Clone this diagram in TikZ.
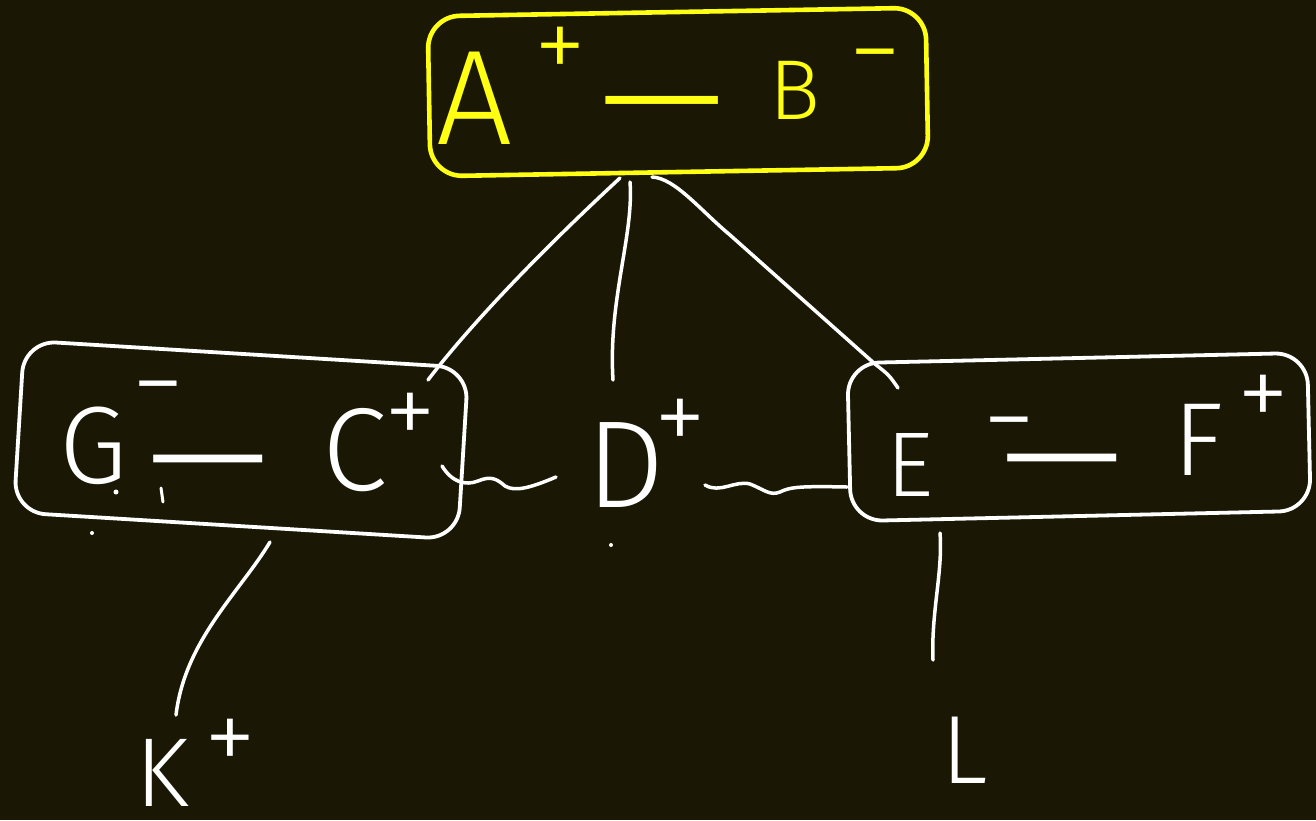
\documentclass[tikz,border=0pt]{standalone}
\usepackage{fontspec}
\setmainfont{Fira Sans}[UprightFont=* Light]
\definecolor{bg}{HTML}{1A1805}
\definecolor{hy}{HTML}{FFFF14}
\begin{document}
\begin{tikzpicture}[x=1pt,y=-1pt,line cap=round,line join=round,
  stroke/.style={draw=white,line width=3.5pt},
  box/.style={draw=white,line width=3.8pt,rounded corners=32pt,inner sep=0pt},
  letter/.style={text=white,inner sep=0pt,font=\fontsize{118}{118}\selectfont},
  sgn/.style={text=white,inner sep=0pt,font=\fontsize{105}{105}\selectfont},
  longdash/.style={text=white,inner sep=0pt,font=\fontsize{160}{160}\selectfont},
  dotmark/.style={fill=white,circle,inner sep=0pt,minimum size=4pt}]
\fill[bg] (0,0) rectangle (1316,820);
\useasboundingbox (0,0) rectangle (1316,820);
% boxes
\node[box,draw=hy,line width=4.6pt,minimum width=498pt,minimum height=160pt,rotate=1] (top) at (678,92) {};
\node[box,minimum width=445pt,minimum height=172pt,rotate=-3.5] (lbox) at (241,440) {};
\node[box,minimum width=460pt,minimum height=158pt,rotate=1.3] (rbox) at (1079,437) {};
% top texts
\node[letter,text=hy,font=\fontsize{135}{135}\selectfont] (a) at (475,98) {A};
\node[sgn,text=hy] (ap) at (560,54) {+};
\node[longdash,text=hy] (ab) at (662,123) {—};
\node[letter,text=hy,font=\fontsize{85}{85}\selectfont] (b) at (795,90) {B};
\node[sgn,text=hy] (bm) at (875,68) {−};
% left box texts
\node[letter,font=\fontsize{110}{110}\selectfont] (g) at (93,446) {G};
\node[sgn] (gm) at (158,400) {−};
\node[longdash,font=\fontsize{155}{155}\selectfont] (gc) at (208,481) {—};
\node[letter] (c) at (355,450) {C};
\node[sgn] (cp) at (410,420) {+};
% middle
\node[letter,font=\fontsize{124}{124}\selectfont] (d) at (626,465) {D};
\node[sgn] (dp) at (680,426) {+};
% right box texts
\node[letter,font=\fontsize{92}{92}\selectfont] (e) at (910,465) {E};
\node[sgn] (em) at (1009,436) {−};
\node[longdash,font=\fontsize{155}{155}\selectfont] (ef) at (1062,480) {—};
\node[letter,font=\fontsize{104}{104}\selectfont] (f) at (1198,440) {F};
\node[sgn] (fp) at (1263,402) {+};
% bottom
\node[letter,font=\fontsize{98}{98}\selectfont] (k) at (162,773) {K};
\node[sgn] (kp) at (230,746) {+};
\node[letter,font=\fontsize{97}{97}\selectfont] (l) at (965,750) {L};
% stray dots
\node[dotmark] (s1) at (92,533) {};
\node[dotmark] (s2) at (611,545) {};
\node[dotmark,minimum size=5pt] (s3) at (116,492) {};
% connector end points
\coordinate (t1) at (620,178);
\coordinate (t2) at (630,182);
\coordinate (t3) at (652,177);
\coordinate (l1) at (428,380);
\coordinate (d1) at (613,380);
\coordinate (r1) at (898,388);
\coordinate (lb) at (270,542);
\coordinate (k1) at (176,715);
\coordinate (rb) at (940,533);
\coordinate (l2) at (933,660);
\coordinate (w1) at (442,466);
\coordinate (w2) at (556,477);
\coordinate (w3) at (705,485);
\coordinate (w4) at (847,487);
% connectors
\draw[stroke] (t1) .. controls (540,252) and (470,325) .. (l1);
\draw[stroke] (t2) .. controls (634,235) and (608,300) .. (d1);
\draw[stroke] (t3) .. controls (675,178) and (700,210) .. (730,235) -- (875,364) .. controls (889,375) .. (r1);
\draw[stroke] (lb) .. controls (240,592) and (185,640) .. (k1);
\draw[stroke] (rb) .. controls (943,572) and (931,612) .. (l2);
% wavy links
\draw[stroke] (w1) .. controls (452,482) and (465,486) .. (478,481) .. controls (490,476) and (496,478) .. (505,486) .. controls (515,492) and (530,488) .. (w2);
\draw[stroke] (w3) .. controls (720,494) and (735,480) .. (750,484) .. controls (765,490) and (770,496) .. (780,492) .. controls (790,487) and (800,486) .. (w4);
% comma mark
\draw[stroke,line width=3pt] (161,488) -- (163,502);
\end{tikzpicture}
\end{document}
